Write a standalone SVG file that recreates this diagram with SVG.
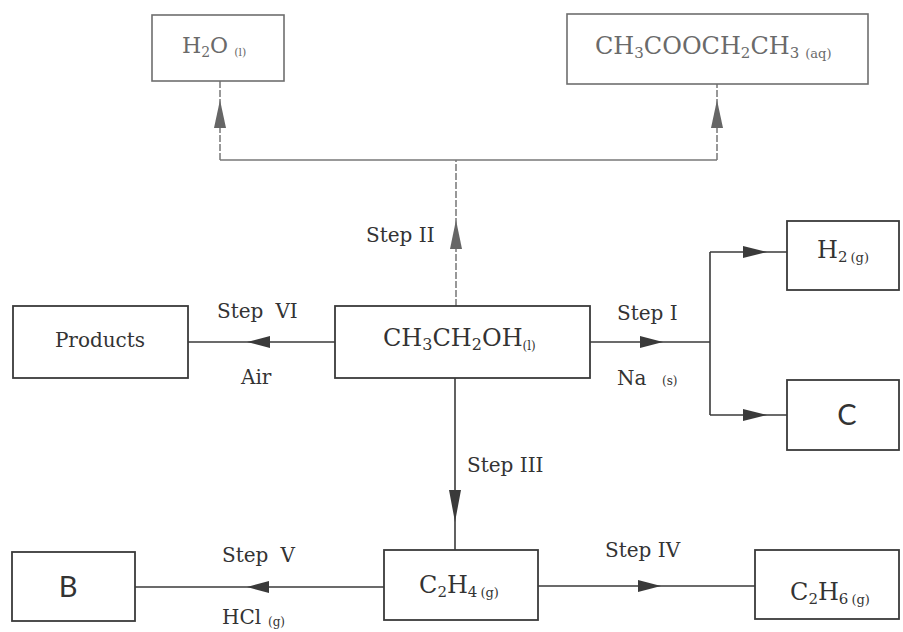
<svg xmlns="http://www.w3.org/2000/svg" width="903" height="632" viewBox="0 0 903 632">
<style>
.box{fill:#fff;stroke:#3a3a3a;stroke-width:1.8}
.fbox{fill:#fff;stroke:#6e6e6e;stroke-width:1.6}
.ln{fill:none;stroke:#3a3a3a;stroke-width:1.6}
.fln{fill:none;stroke:#777;stroke-width:1.5;stroke-dasharray:7 2}
.ah{fill:#3a3a3a}
.fah{fill:#666}
.t{font-family:"DejaVu Serif","Liberation Serif",serif;fill:#333}
.ft{font-family:"DejaVu Serif","Liberation Serif",serif;fill:#6a6a6a}
.lab{font-size:20px}
.big{font-family:Lato,"Liberation Sans",sans-serif;font-size:29px;fill:#333}
</style>
<g id="connectors">
  <line class="fln" x1="456" y1="306" x2="456" y2="160"/>
  <polygon class="fah" points="456,220 450,249 462,249"/>
  <line class="fln" x1="220" y1="160" x2="717" y2="160" style="stroke-dasharray:none"/>
  <line class="fln" x1="220" y1="160" x2="220" y2="81"/>
  <polygon class="fah" points="220,100 214,128 226,128"/>
  <line class="fln" x1="717" y1="160" x2="717" y2="84"/>
  <polygon class="fah" points="717,100 711,128 723,128"/>
  <line class="ln" x1="335" y1="342" x2="188" y2="342"/>
  <polygon class="ah" points="247,342 270,336 270,348"/>
  <line class="ln" x1="590" y1="342" x2="710" y2="342"/>
  <polygon class="ah" points="663,342 640,336 640,348"/>
  <line class="ln" x1="710" y1="252" x2="710" y2="415"/>
  <line class="ln" x1="710" y1="252" x2="787" y2="252"/>
  <polygon class="ah" points="767,252 743,246 743,258"/>
  <line class="ln" x1="710" y1="415" x2="787" y2="415"/>
  <polygon class="ah" points="767,415 743,409 743,421"/>
  <line class="ln" x1="455" y1="378" x2="455" y2="550"/>
  <polygon class="ah" points="455,522 449,490 461,490"/>
  <line class="ln" x1="384" y1="587" x2="135" y2="587"/>
  <polygon class="ah" points="247,587 269,581 269,593"/>
  <line class="ln" x1="538" y1="586" x2="755" y2="586"/>
  <polygon class="ah" points="661,586 638,580 638,592"/>
</g>
<g id="labels">
  <text class="t lab" x="366" y="242">Step II</text>
  <text class="t lab" x="217" y="318">Step<tspan dx="12">VI</tspan></text>
  <text class="t lab" x="241" y="384">Air</text>
  <text class="t lab" x="617" y="320">Step I</text>
  <text class="t lab" x="617" y="385">Na<tspan x="662" font-size="12">(s)</tspan></text>
  <text class="t lab" x="467" y="472">Step III</text>
  <text class="t lab" x="222" y="562">Step<tspan dx="12">V</tspan></text>
  <text class="t lab" x="222" y="624">HCl<tspan x="268" font-size="12" dy="2">(g)</tspan></text>
  <text class="t lab" x="605" y="557">Step IV</text>
</g>
<g id="node-h2o">
  <rect class="fbox" x="152" y="15" width="132" height="66"/>
  <text class="ft" x="182" y="53" font-size="22">H<tspan font-size="14" dy="4">2</tspan><tspan dy="-4">O</tspan><tspan font-size="11" dx="6" dy="3">(l)</tspan></text>
</g>
<g id="node-ester">
  <rect class="fbox" x="567" y="14" width="301" height="70"/>
  <text class="ft" x="595" y="54" font-size="24">CH<tspan font-size="15" dy="4">3</tspan><tspan dy="-4">COOCH</tspan><tspan font-size="15" dy="4">2</tspan><tspan dy="-4">CH</tspan><tspan font-size="15" dy="4">3</tspan><tspan font-size="13" dx="6">(aq)</tspan></text>
</g>
<g id="node-ethanol">
  <rect class="box" x="335" y="306" width="255" height="72"/>
  <text class="t" x="383" y="346" font-size="24">CH<tspan font-size="16" dy="4">3</tspan><tspan dy="-4">CH</tspan><tspan font-size="16" dy="4">2</tspan><tspan dy="-4">OH</tspan><tspan font-size="12" dy="4">(l)</tspan></text>
</g>
<g id="node-products">
  <rect class="box" x="13" y="306" width="175" height="72"/>
  <text class="t" x="100" y="347" font-size="20" text-anchor="middle">Products</text>
</g>
<g id="node-h2">
  <rect class="box" x="787" y="221" width="112" height="69"/>
  <text class="t" x="817" y="258" font-size="24">H<tspan font-size="15" dy="4">2</tspan><tspan font-size="13" dx="3">(g)</tspan></text>
</g>
<g id="node-c">
  <rect class="box" x="787" y="380" width="112" height="70"/>
  <text class="big" x="847" y="425" text-anchor="middle">C</text>
</g>
<g id="node-ethene">
  <rect class="box" x="384" y="550" width="154" height="70"/>
  <text class="t" x="419" y="593" font-size="24">C<tspan font-size="15" dy="4">2</tspan><tspan dy="-4">H</tspan><tspan font-size="15" dy="4">4</tspan><tspan font-size="13" dx="3">(g)</tspan></text>
</g>
<g id="node-b">
  <rect class="box" x="12" y="552" width="123" height="69"/>
  <text class="big" x="68" y="597" text-anchor="middle">B</text>
</g>
<g id="node-ethane">
  <rect class="box" x="755" y="550" width="144" height="69"/>
  <text class="t" x="790" y="600" font-size="24">C<tspan font-size="15" dy="4">2</tspan><tspan dy="-4">H</tspan><tspan font-size="15" dy="4">6</tspan><tspan font-size="13" dx="3">(g)</tspan></text>
</g>
</svg>
